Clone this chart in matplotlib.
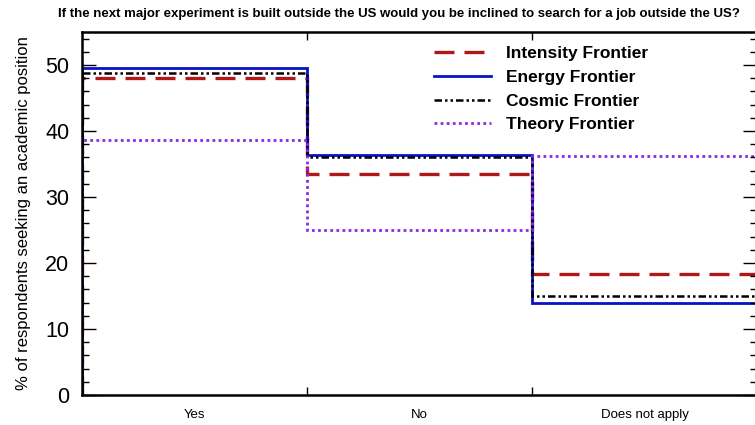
import matplotlib
matplotlib.use("Agg")
import matplotlib.pyplot as plt
import numpy as np
from matplotlib.ticker import MultipleLocator

# data
categories = ["Yes", "No", "Does not apply"]
intensity = [48.0, 33.5, 18.4]
energy = [49.5, 36.4, 14.0]
cosmic = [48.8, 36.0, 15.0]
theory = [38.7, 25.0, 36.2]

title = "If the next major experiment is built outside the US would you be inclined to search for a job outside the US?"
ylabel = "% of respondents seeking an academic position"

plt.rcParams['font.family'] = ['Liberation Sans', 'DejaVu Sans']
narrow = ['Liberation Sans Narrow', 'Liberation Sans', 'DejaVu Sans']

fig = plt.figure(figsize=(7.55, 4.25), dpi=100)
ax = fig.add_axes([82/755, 1-395/425, 675/755, 363/425])

edges = np.arange(len(categories) + 1)

ax.stairs(intensity, edges, color='#b01818', lw=2.4, linestyle=(0, (6, 3)), label='Intensity Frontier')
ax.stairs(energy, edges, color='#0a10c8', lw=2.0, label='Energy Frontier')
ax.stairs(cosmic, edges, color='black', lw=1.8, linestyle=(0, (3, 1.2, 1, 1.2, 1, 1.2)), label='Cosmic Frontier')
ax.stairs(theory, edges, color='#8a2be2', lw=2.0, linestyle=(0, (1, 1.2)), label='Theory Frontier')

ax.set_xlim(0, 3)
ax.set_ylim(0, 55)

ax.set_xticks([1, 2])
ax.set_xticklabels([])
ax.set_xticks(edges[:-1] + 0.5, minor=True)
ax.set_xticklabels(categories, minor=True, family=narrow, fontsize=9.5)
ax.tick_params(axis='x', which='major', direction='in', length=6, top=True, width=1)
ax.tick_params(axis='x', which='minor', length=0, pad=10)

ax.yaxis.set_major_locator(MultipleLocator(10))
ax.yaxis.set_minor_locator(MultipleLocator(2))
ax.tick_params(axis='y', which='major', direction='in', length=10, right=True, labelsize=15.5, pad=9, width=1)
ax.tick_params(axis='y', which='minor', direction='in', length=5, right=True, width=1)

for s in ax.spines.values():
    s.set_linewidth(1.8)

ax.set_ylabel(ylabel, fontsize=12, labelpad=10)

fig.text(0.077, 0.967, title, family=narrow, fontweight='bold', fontsize=9.5, va='center', ha='left')

leg = ax.legend(loc='upper left', bbox_to_anchor=(0.498, 1.005), frameon=False,
                prop={'weight': 'bold', 'size': 12.5}, handlelength=3.3,
                labelspacing=0.5, handletextpad=0.85)

fig.savefig("out.png", dpi=100)
